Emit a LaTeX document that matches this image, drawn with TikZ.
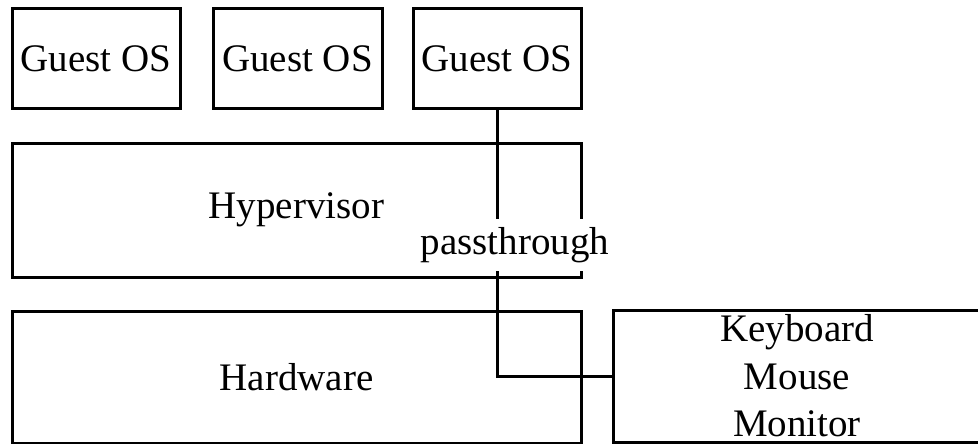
\documentclass[tikz,border=0pt]{standalone}
\usepackage{fontspec}
\setmainfont{Liberation Serif}
\begin{document}
\begin{tikzpicture}[x=1pt,y=-1pt,
  txt/.style={font=\fontsize{39}{47.5}\selectfont},
  box/.style={draw=black,line width=3pt,minimum width=#1,inner sep=0pt,txt},
  conn/.style={draw=black,line width=3pt},
  lbl/.style={fill=white,inner sep=0pt,minimum height=52pt,minimum width=195pt,txt}]
\useasboundingbox (0,0) rectangle (978,444);
\node[box=168pt,minimum height=100pt] (g1) at (96,59) {Guest OS};
\node[box=169pt,minimum height=100pt] (g2) at (297.5,59) {Guest OS};
\node[box=168pt,minimum height=100pt] (g3) at (497,59) {Guest OS};
\node[box=569pt,minimum height=134pt] (hyp) at (296.5,210) {Hypervisor};
\node[box=569pt,minimum height=132pt] (hw) at (296.5,377) {Hardware};
\node[box=374pt,minimum height=132pt,
  label={[txt,align=center,xshift=-3pt]center:Keyboard\\Mouse\\Monitor}] (kbd) at (800,376) {};
\draw[conn] (g3.south) |- (kbd.west);
\node[lbl] (pt) at (515,245) {passthrough};
\end{tikzpicture}
\end{document}
